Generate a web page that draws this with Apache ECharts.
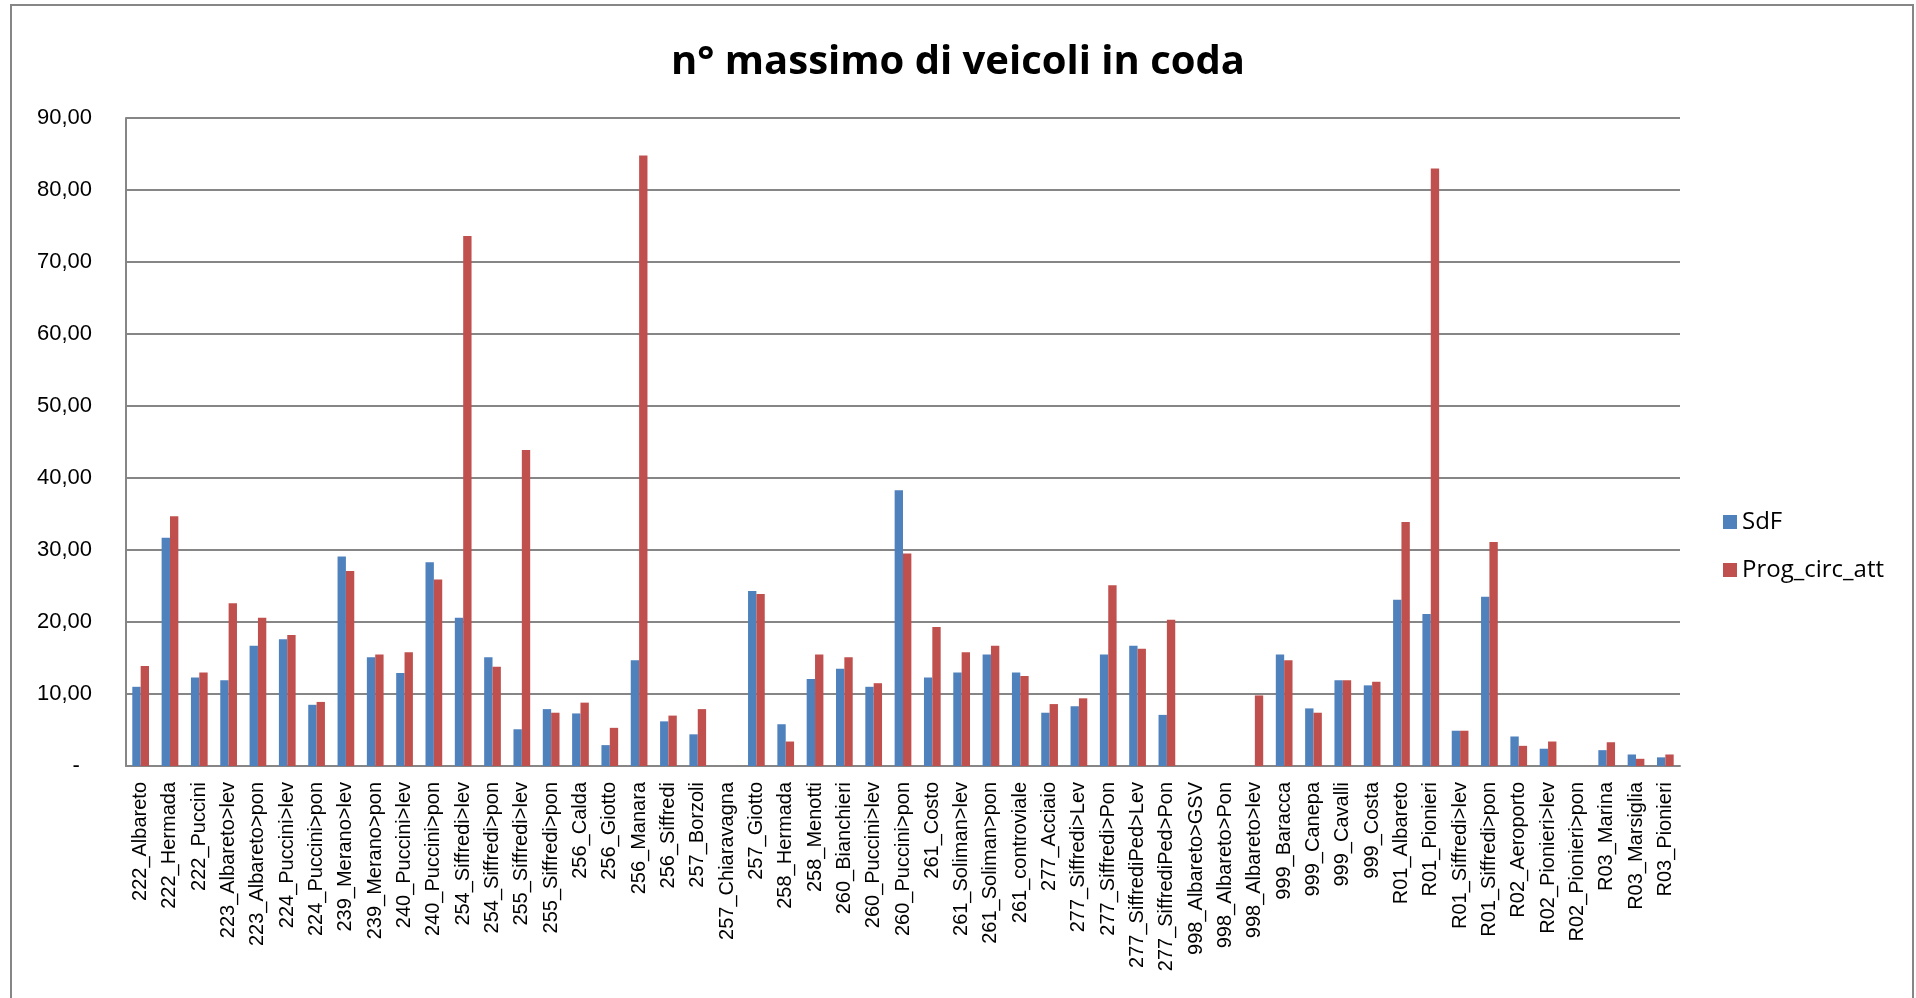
<!DOCTYPE html>
<html>
<head>
<meta charset="utf-8">
<script src="https://cdn.jsdelivr.net/npm/echarts@6/dist/echarts.min.js"></script>
<style>html,body{margin:0;padding:0;background:#fff;}#c{width:1916px;height:998px;}</style>
</head>
<body>
<div id="c"></div>
<script>
const categories = ["222_Albareto","222_Hermada","222_Puccini","223_Albareto>lev","223_Albareto>pon","224_Puccini>lev","224_Puccini>pon","239_Merano>lev","239_Merano>pon","240_Puccini>lev","240_Puccini>pon","254_Siffredi>lev","254_Siffredi>pon","255_Siffredi>lev","255_Siffredi>pon","256_Calda","256_Giotto","256_Manara","256_Siffredi","257_Borzoli","257_Chiaravagna","257_Giotto","258_Hermada","258_Menotti","260_Bianchieri","260_Puccini>lev","260_Puccini>pon","261_Costo","261_Soliman>lev","261_Soliman>pon","261_controviale","277_Acciaio","277_Siffredi>Lev","277_Siffredi>Pon","277_SiffrediPed>Lev","277_SiffrediPed>Pon","998_Albareto>GSV","998_Albareto>Pon","998_Albareto>lev","999_Baracca","999_Canepa","999_Cavalli","999_Costa","R01_Albareto","R01_Pionieri","R01_Siffredi>lev","R01_Siffredi>pon","R02_Aeroporto","R02_Pionieri>lev","R02_Pionieri>pon","R03_Marina","R03_Marsiglia","R03_Pionieri"];
const seriesNames = ["SdF","Prog_circ_att"];
const sdf = [11.0,31.7,12.3,11.9,16.7,17.6,8.5,29.1,15.1,12.9,28.3,20.6,15.1,5.1,7.9,7.3,2.9,14.7,6.2,4.4,0,24.3,5.8,12.1,13.5,11.0,38.3,12.3,13.0,15.5,13.0,7.4,8.3,15.5,16.7,7.1,0,0,0,15.5,8.0,11.9,11.2,23.1,21.1,4.9,23.5,4.1,2.4,0,2.2,1.6,1.2];
const prog = [13.9,34.7,13.0,22.6,20.6,18.2,8.9,27.1,15.5,15.8,25.9,73.6,13.8,43.9,7.4,8.8,5.3,84.8,7.0,7.9,0,23.9,3.4,15.5,15.1,11.5,29.5,19.3,15.8,16.7,12.5,8.6,9.4,25.1,16.3,20.3,0,0,9.8,14.7,7.4,11.9,11.7,33.9,83.0,4.9,31.1,2.8,3.4,0,3.3,1.0,1.6];
const yTicks = {min: 0, max: 90, interval: 10};

const chart = echarts.init(document.getElementById('c'), null, {renderer: 'canvas'});
const gray = '#868686';
chart.setOption({
  animation: false,
  backgroundColor: '#fff',
  color: ['#4F81BD', '#C0504D'],
  title: {
    text: 'n° massimo di veicoli in coda',
    left: 'center',
    top: 38,
    textStyle: {fontFamily: 'Open Sans', fontWeight: 'bold', fontSize: 40, color: '#000'}
  },
  legend: {
    orient: 'vertical',
    left: 1718,
    top: 505,
    itemWidth: 14,
    itemHeight: 14,
    itemGap: 24,
    icon: 'rect',
    data: seriesNames,
    textStyle: {fontFamily: 'Open Sans', fontSize: 24, color: '#000', lineHeight: 24}
  },
  grid: {left: 126, right: 236, top: 118, bottom: 232, containLabel: false},
  xAxis: {
    type: 'category',
    data: categories,
    axisLine: {lineStyle: {color: gray, width: 2}},
    axisTick: {show: false},
    axisLabel: {
      interval: 0, rotate: 90, margin: 16,
      fontFamily: 'Liberation Sans', fontSize: 20, color: '#000'
    }
  },
  yAxis: {
    type: 'value',
    min: yTicks.min, max: yTicks.max, interval: yTicks.interval,
    axisLine: {show: true, lineStyle: {color: gray, width: 2}},
    axisTick: {show: false},
    splitLine: {lineStyle: {color: gray, width: 2}},
    axisLabel: {
      margin: 34,
      fontFamily: 'Liberation Sans', fontSize: 22, color: '#000',
      formatter: v => v === 0 ? '-  ' : v.toFixed(2).replace('.', ',')
    }
  },
  series: [
    {name: seriesNames[0], type: 'bar', data: sdf, barGap: '0%', barCategoryGap: '43%'},
    {name: seriesNames[1], type: 'bar', data: prog, barGap: '0%', barCategoryGap: '43%'}
  ],
  graphic: [{
    type: 'rect',
    shape: {x: 11, y: 5, width: 1902, height: 1010},
    style: {fill: 'none', stroke: gray, lineWidth: 2},
    silent: true
  }]
});
</script>
</body>
</html>
